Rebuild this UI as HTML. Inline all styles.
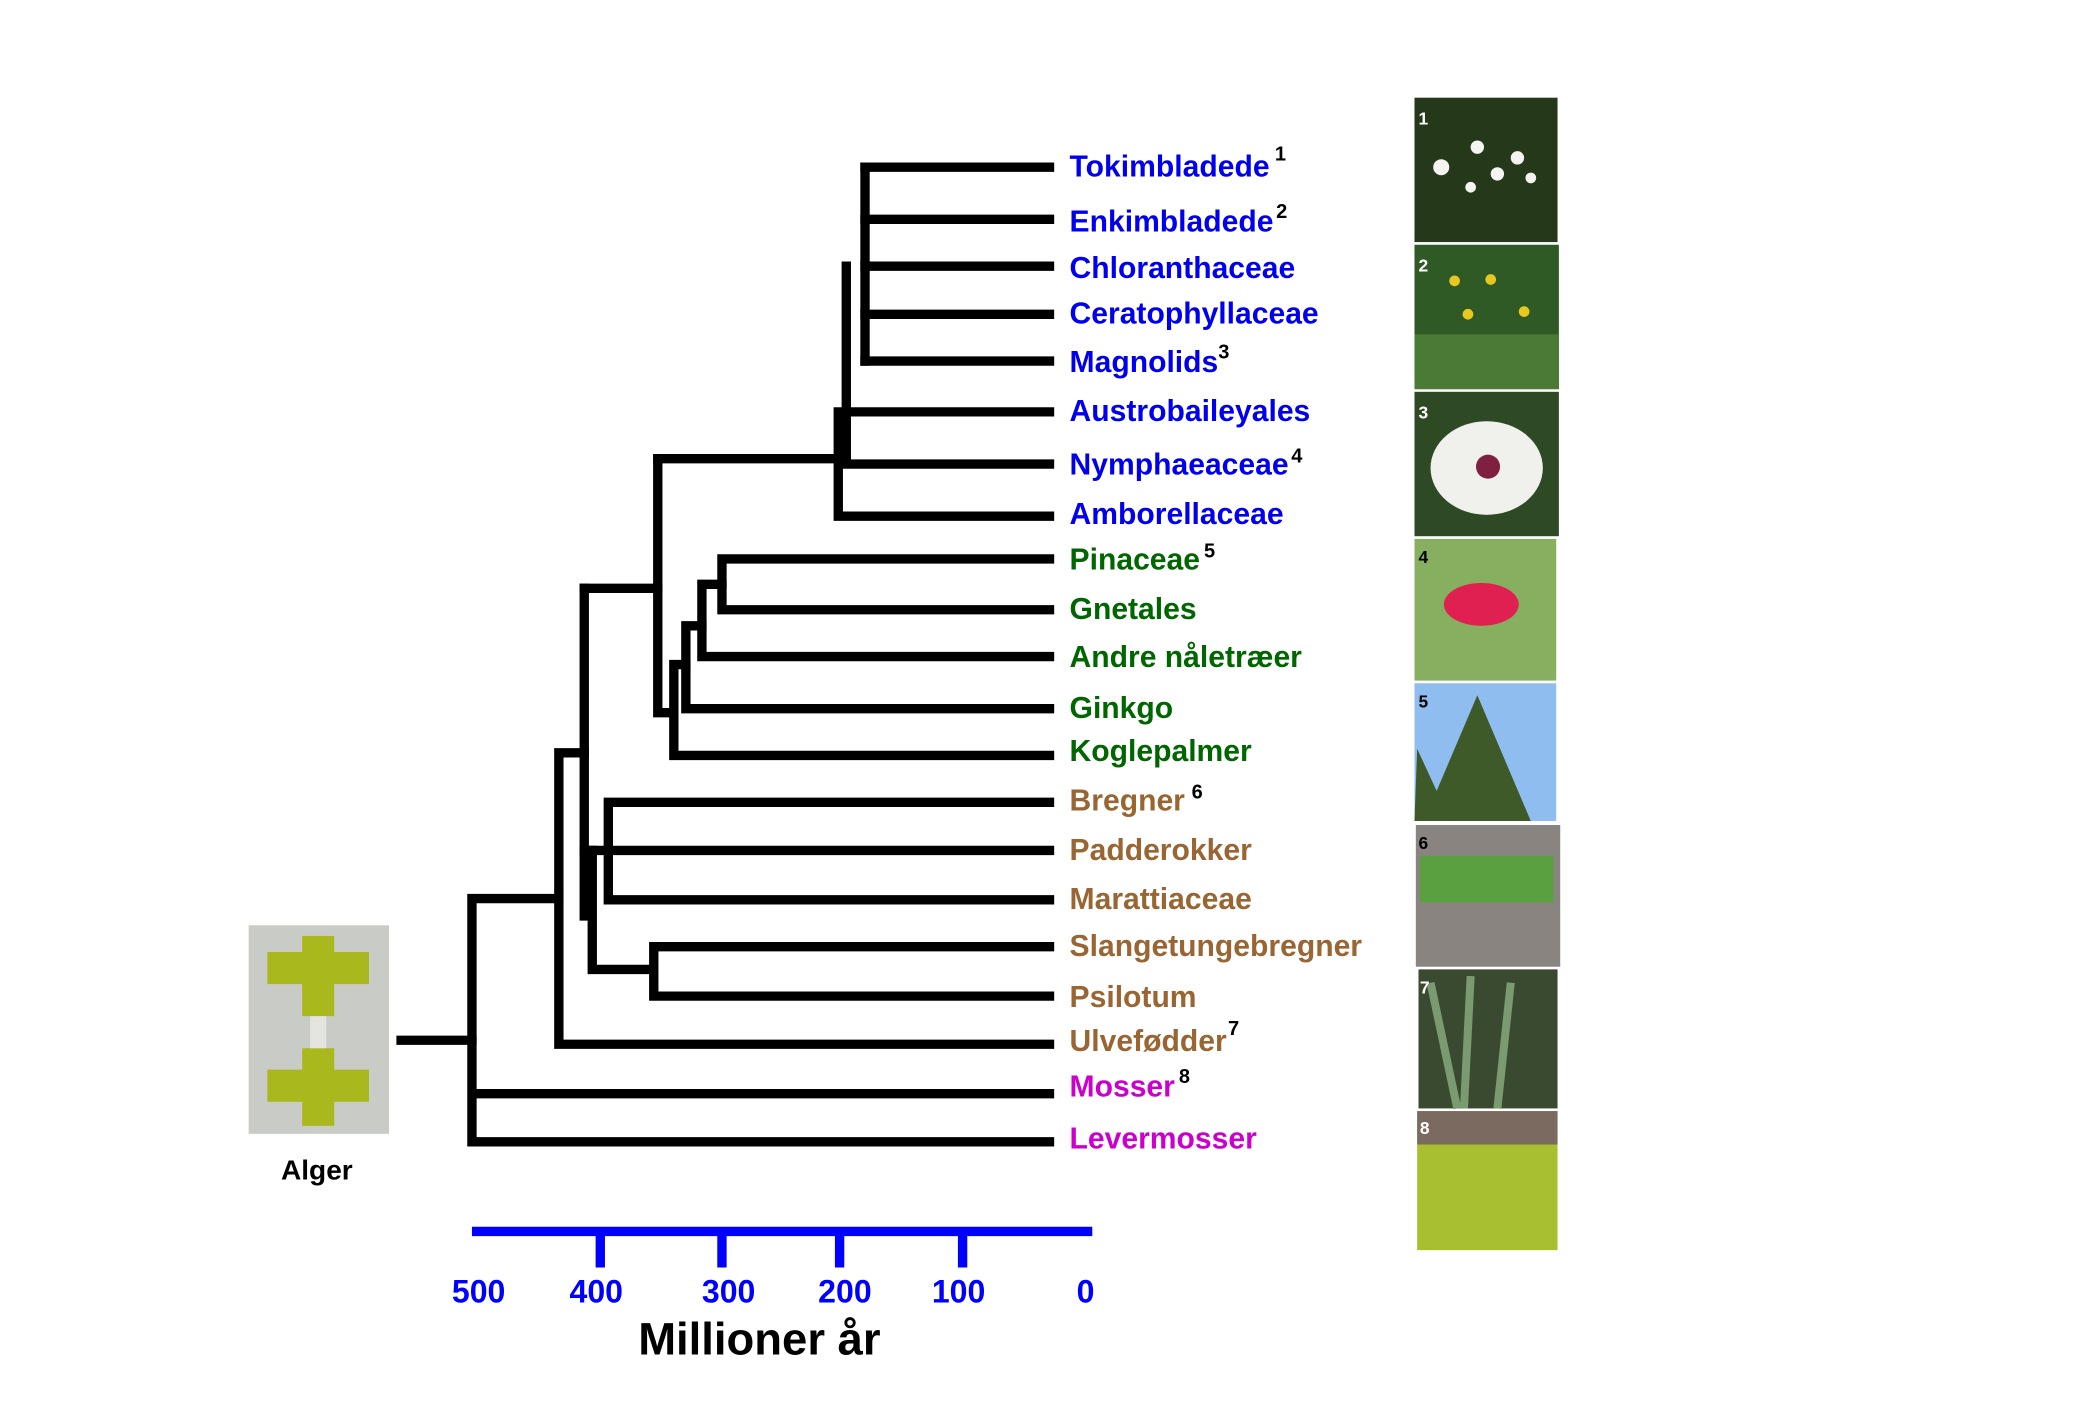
<!DOCTYPE html>
<html><head><meta charset="utf-8"><style>
html,body{margin:0;padding:0;background:#fff;}
svg{display:block;}
text{font-family:"Liberation Sans",Arial,sans-serif;font-weight:bold;}
</style></head><body>
<svg width="2095" height="1408" viewBox="0 0 1567 1053" xmlns="http://www.w3.org/2000/svg">
<rect width="1567" height="1053" fill="#fff"/>
<g stroke="#000" stroke-width="7" fill="none" stroke-linecap="square">
<path d="M647 125V270"/>
<path d="M647 125H785M647 164H785M647 199H785M647 235H785M647 270H785"/>
<path d="M633 199V347M633 308H785M633 347H785"/>
<path d="M627 308V386M627 386H785"/>
<path d="M492 343H627"/>
<path d="M540 418V456M540 418H785M540 456H785"/>
<path d="M525 437H540M525 437V491M525 491H785"/>
<path d="M513 468H525M513 468V530M513 530H785"/>
<path d="M504 497H513M504 497V565M504 565H785"/>
<path d="M492 343V533H504"/>
<path d="M437 440H492"/>
<path d="M437 440V685"/>
<path d="M455 600V673M455 600H785M455 673H785M437 636H785"/>
<path d="M443 636V725M443 725H489M489 708V745M489 708H785M489 745H785"/>
<path d="M418 563H437M418 563V781M418 781H785"/>
<path d="M353 672H418M353 672V854M353 818H785M353 854H785"/>
<path d="M300 778H353"/>
</g>
<g font-size="22.5">
<g fill="#0000ee">
<text x="800" y="132">Tokimbladede<tspan font-size="15" fill="#000" dx="4" dy="-12">1</tspan></text>
<text x="800" y="173">Enkimbladede<tspan font-size="15" fill="#000" dx="2" dy="-10">2</tspan></text>
<text x="800" y="208">Chloranthaceae</text>
<text x="800" y="242">Ceratophyllaceae</text>
<text x="800" y="278">Magnolids<tspan font-size="15" fill="#000" dx="0" dy="-10">3</tspan></text>
<text x="800" y="315">Austrobaileyales</text>
<text x="800" y="355">Nymphaeaceae<tspan font-size="15" fill="#000" dx="2" dy="-9">4</tspan></text>
<text x="800" y="392">Amborellaceae</text>
</g>
<g fill="#006600">
<text x="800" y="426">Pinaceae<tspan font-size="15" fill="#000" dx="3" dy="-9">5</tspan></text>
<text x="800" y="463">Gnetales</text>
<text x="800" y="499">Andre nåletræer</text>
<text x="800" y="537">Ginkgo</text>
<text x="800" y="569">Koglepalmer</text>
</g>
<g fill="#996633">
<text x="800" y="606">Bregner<tspan font-size="15" fill="#000" dx="5" dy="-9">6</tspan></text>
<text x="800" y="643">Padderokker</text>
<text x="800" y="680">Marattiaceae</text>
<text x="800" y="715">Slangetungebregner</text>
<text x="800" y="753">Psilotum</text>
<text x="800" y="786">Ulvefødder<tspan font-size="15" fill="#000" dx="1" dy="-12">7</tspan></text>
</g>
<g fill="#cc00cc">
<text x="800" y="820">Mosser<tspan font-size="15" fill="#000" dx="3" dy="-10">8</tspan></text>
<text x="800" y="859">Levermosser</text>
</g>
</g>
<g stroke="#0000ff" stroke-width="7">
<path d="M353 921H817"/>
<path d="M449 921V948M540 921V948M628 921V948M720 921V948"/>
</g>
<g fill="#0000ff" font-size="24" text-anchor="middle">
<text x="358" y="974">500</text><text x="446" y="974">400</text><text x="545" y="974">300</text>
<text x="632" y="974">200</text><text x="717" y="974">100</text><text x="812" y="974">0</text>
</g>
<text x="568" y="1013" font-size="34" text-anchor="middle" fill="#000">Millioner år</text>
<rect x="186" y="692" width="105" height="156" fill="#c9cbc6"/>
<g fill="#a9b81c">
<rect x="226" y="700" width="24" height="60"/><rect x="200" y="712" width="76" height="24"/>
<rect x="226" y="784" width="24" height="58"/><rect x="200" y="800" width="76" height="24"/>
</g>
<rect x="232" y="760" width="12" height="24" fill="#e4e4e0"/>
<text x="237" y="882" font-size="21" text-anchor="middle" fill="#000">Alger</text>
<rect x="1058" y="73" width="107" height="108" fill="#25381a"/>
<g fill="#f4f4f0"><circle cx="1078" cy="125" r="6"/><circle cx="1105" cy="110" r="5"/><circle cx="1120" cy="130" r="5"/><circle cx="1135" cy="118" r="5"/><circle cx="1100" cy="140" r="4"/><circle cx="1145" cy="133" r="4"/></g>
<rect x="1058" y="183" width="108" height="108" fill="#2f5a26"/>
<rect x="1058" y="250" width="108" height="41" fill="#4a7a35"/>
<g fill="#e8c820"><circle cx="1088" cy="210" r="4"/><circle cx="1115" cy="209" r="4"/><circle cx="1098" cy="235" r="4"/><circle cx="1140" cy="233" r="4"/></g>
<rect x="1058" y="293" width="108" height="108" fill="#2e4a25"/>
<ellipse cx="1112" cy="350" rx="42" ry="35" fill="#f0f0ec"/><circle cx="1113" cy="349" r="9" fill="#802040"/>
<rect x="1058" y="403" width="106" height="106" fill="#86b060"/>
<ellipse cx="1108" cy="452" rx="28" ry="16" fill="#e02050"/>
<rect x="1058" y="511" width="106" height="103" fill="#8fbdf0"/>
<path d="M1105 520L1145 614H1065Z" fill="#3d5a28"/><path d="M1060 560L1085 614H1058Z" fill="#3d5a28"/>
<rect x="1059" y="617" width="108" height="106" fill="#8a8480"/>
<rect x="1062" y="640" width="100" height="35" fill="#5aa040"/>
<rect x="1061" y="725" width="104" height="104" fill="#3a4a30"/>
<path d="M1070 735L1090 829M1100 730L1095 829M1130 735L1120 829" stroke="#7a9a70" stroke-width="6"/>
<rect x="1060" y="831" width="105" height="104" fill="#a8c030"/>
<rect x="1060" y="831" width="105" height="25" fill="#7a6a60"/>
<g font-size="13" fill="#fff">
<text x="1061" y="93">1</text><text x="1061" y="203">2</text><text x="1061" y="313">3</text>
<text x="1061" y="421" fill="#000">4</text><text x="1061" y="529" fill="#000">5</text><text x="1061" y="635" fill="#000">6</text>
<text x="1062" y="743">7</text><text x="1062" y="848">8</text>
</g>
</svg>
</body></html>
